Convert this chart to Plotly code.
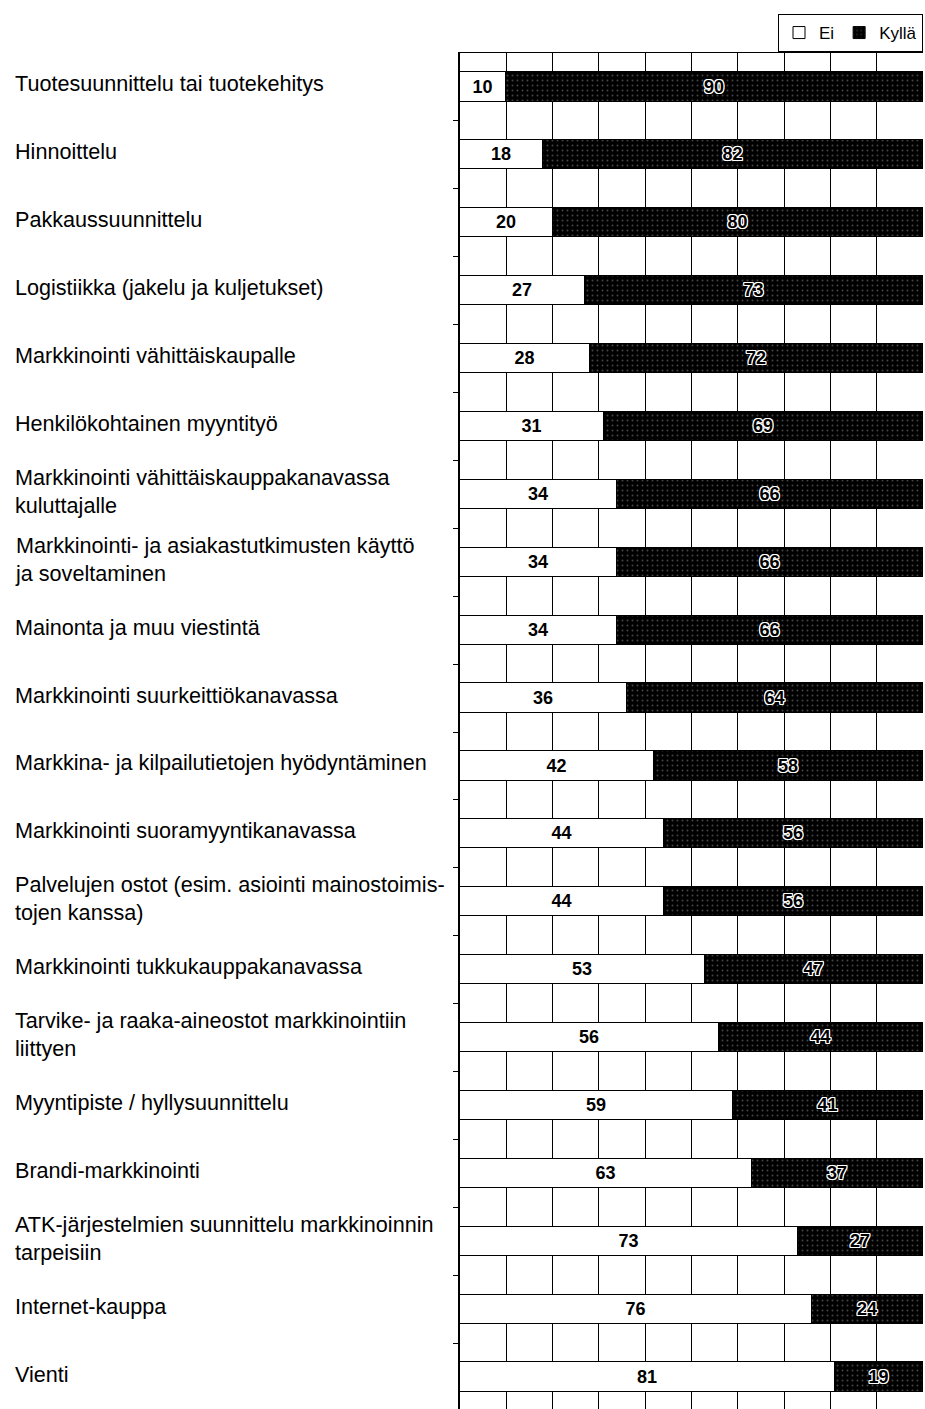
import plotly.graph_objects as go

# Survey items (top to bottom) and the share of "Ei" / "Kyllä" answers (%)
categories = [
    "Tuotesuunnittelu tai tuotekehitys",
    "Hinnoittelu",
    "Pakkaussuunnittelu",
    "Logistiikka (jakelu ja kuljetukset)",
    "Markkinointi vähittäiskaupalle",
    "Henkilökohtainen myyntityö",
    "Markkinointi vähittäiskauppakanavassa<br>kuluttajalle",
    "Markkinointi- ja asiakastutkimusten käyttö<br>ja soveltaminen",
    "Mainonta ja muu viestintä",
    "Markkinointi suurkeittiökanavassa",
    "Markkina- ja kilpailutietojen hyödyntäminen",
    "Markkinointi suoramyyntikanavassa",
    "Palvelujen ostot (esim. asiointi mainostoimis-<br>tojen kanssa)",
    "Markkinointi tukkukauppakanavassa",
    "Tarvike- ja raaka-aineostot markkinointiin<br>liittyen",
    "Myyntipiste / hyllysuunnittelu",
    "Brandi-markkinointi",
    "ATK-järjestelmien suunnittelu markkinoinnin<br>tarpeisiin",
    "Internet-kauppa",
    "Vienti",
]
ei_values = [10, 18, 20, 27, 28, 31, 34, 34, 34, 36, 42, 44, 44, 53, 56, 59, 63, 73, 76, 81]
kylla_values = [90, 82, 80, 73, 72, 69, 66, 66, 66, 64, 58, 56, 56, 47, 44, 41, 37, 27, 24, 19]

W, H = 925, 1409
M_L, M_R, M_T, M_B = 460, 2, 53, 0
ROW_PX = 67.9
FONT = "Liberation Sans, Arial, Helvetica, sans-serif"

rows = list(range(len(categories)))
plot_h = H - M_T - M_B
y_bottom = -0.5 + plot_h / ROW_PX

halo = ("1px 1px 0 white, -1px -1px 0 white, 1px -1px 0 white, -1px 1px 0 white, "
        "0 1px 0 white, 0 -1px 0 white, 1px 0 0 white, -1px 0 0 white")

fig = go.Figure()
fig.add_trace(go.Bar(
    name="Ei", y=rows, x=ei_values, orientation="h", width=0.43,
    marker=dict(color="white", line=dict(color="black", width=1)),
    text=ei_values, textposition="inside", insidetextanchor="middle",
    textangle=0, constraintext="none",
    textfont=dict(family=FONT, size=18, color="black", weight="bold"),
))
fig.add_trace(go.Bar(
    name="Kyllä", y=rows, x=kylla_values, orientation="h", width=0.43,
    marker=dict(color="black", line=dict(color="black", width=1),
                pattern=dict(shape=".", fgcolor="#8a8a8a", bgcolor="black",
                             size=5, solidity=0.12)),
    text=kylla_values, textposition="inside", insidetextanchor="middle",
    textangle=0, constraintext="none",
    textfont=dict(family=FONT, size=18, color="black", weight="bold", shadow=halo),
))

# Item labels, left aligned in the left margin
plot_w = W - M_L - M_R
for r, label in zip(rows, categories):
    fig.add_annotation(
        x=(13 - M_L) / plot_w, xref="paper", xanchor="left",
        y=r, yref="y", yanchor="middle", yshift=3,
        text=label, showarrow=False, align="left",
        font=dict(family=FONT, size=21.6, color="black"),
    )

fig.update_layout(
    width=W, height=H,
    margin=dict(l=M_L, r=M_R, t=M_T, b=M_B),
    barmode="stack", bargap=0,
    plot_bgcolor="white", paper_bgcolor="white",
    font=dict(family=FONT, color="black"),
    showlegend=True,
    legend=dict(
        orientation="h", xref="container", yref="container",
        x=1 - 2 / W, xanchor="right", y=1 - 14 / H, yanchor="top",
        bordercolor="black", borderwidth=1, bgcolor="white",
        font=dict(family=FONT, size=17, color="black"),
        itemwidth=30, traceorder="normal", tracegroupgap=0,
    ),
    xaxis=dict(
        range=[0, 100], tick0=0, dtick=10, showticklabels=False,
        showgrid=True, gridcolor="black", gridwidth=1, zeroline=False,
        showline=True, side="top", linecolor="black", linewidth=1, ticks="",
    ),
    yaxis=dict(
        range=[y_bottom, -0.5], showgrid=False, zeroline=False,
        showline=True, linecolor="black", linewidth=1.5,
        tickvals=[r + 0.5 for r in rows[:-1]], ticks="outside", ticklen=5,
        tickcolor="black", tickwidth=1, showticklabels=False,
    ),
)

fig.write_html("out.html")
